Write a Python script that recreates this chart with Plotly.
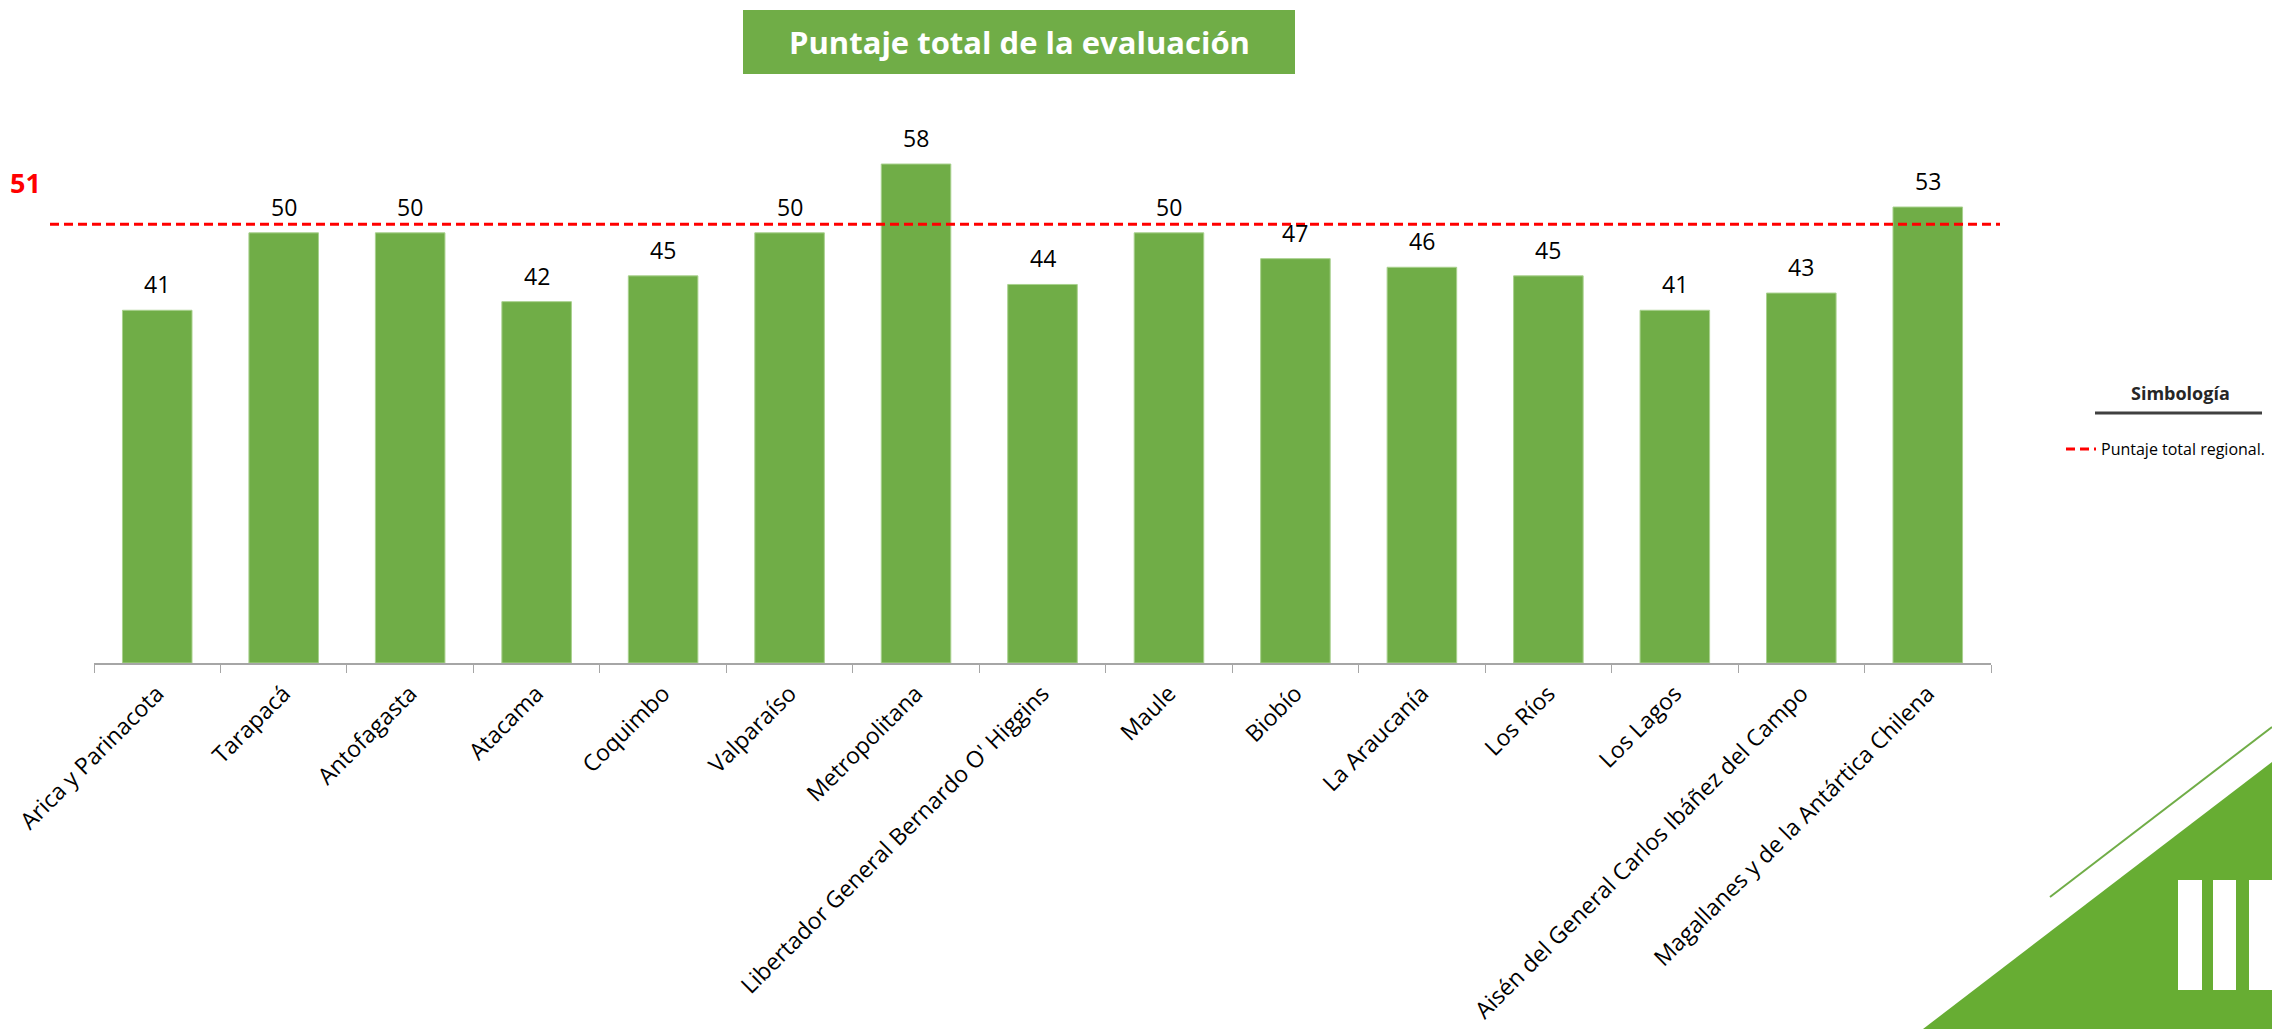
import plotly.graph_objects as go

# Datos
regiones = [
    "Arica y Parinacota",
    "Tarapacá",
    "Antofagasta",
    "Atacama",
    "Coquimbo",
    "Valparaíso",
    "Metropolitana",
    "Libertador General Bernardo O' Higgins",
    "Maule",
    "Biobío",
    "La Araucanía",
    "Los Ríos",
    "Los Lagos",
    "Aisén del General Carlos Ibáñez del Campo",
    "Magallanes y de la Antártica Chilena",
]
puntajes = [41, 50, 50, 42, 45, 50, 58, 44, 50, 47, 46, 45, 41, 43, 53]
puntaje_regional = 51

titulo = "Puntaje total de la evaluación"
leyenda_titulo = "Simbología"
leyenda_item = "Puntaje total regional."

# Geometria de la pagina (pixeles)
W, H = 2272, 1029
PL, PR, PT, PB = 94, 1991, 121, 663
FONT = "Open Sans"
VERDE = "#70AD47"


def px(x):
    return (x - PL) / (PR - PL)


def py(y):
    return (PB - y) / (PB - PT)


fig = go.Figure()

fig.add_trace(
    go.Bar(
        x=regiones,
        y=puntajes,
        marker=dict(color=VERDE, line=dict(color="#A9D18E", width=1)),
        showlegend=False,
        hoverinfo="x+y",
    )
)

# Etiquetas de valor sobre las barras
for reg, val in zip(regiones, puntajes):
    fig.add_annotation(
        x=reg, y=val, text=str(val), showarrow=False, yshift=26,
        font=dict(family=FONT, size=23, color="#000000"),
    )

# Linea del puntaje regional
fig.add_shape(
    type="line", xref="paper", yref="y",
    x0=px(50), x1=px(2000), y0=puntaje_regional, y1=puntaje_regional,
    line=dict(color="#FF0000", width=3, dash="9px,5px"),
    showlegend=True, name=leyenda_item, layer="above",
)
fig.add_annotation(
    xref="paper", yref="y", x=px(25), y=puntaje_regional, yshift=42,
    text=f"<b>{puntaje_regional}</b>", showarrow=False,
    xanchor="center", yanchor="middle",
    font=dict(family=FONT, size=27, color="#FF0000"),
)

# Titulo en caja verde
fig.add_shape(
    type="rect", xref="paper", yref="paper",
    x0=px(743), x1=px(1295), y0=py(74), y1=py(10),
    fillcolor=VERDE, line=dict(width=0), layer="below",
)
fig.add_annotation(
    xref="paper", yref="paper", x=px(1019), y=py(42),
    text=f"<b>{titulo}</b>", showarrow=False,
    xanchor="center", yanchor="middle",
    font=dict(family=FONT, size=31, color="white"),
)

# Leyenda: titulo y subrayado
fig.add_annotation(
    xref="paper", yref="paper", x=px(2180), y=py(393),
    text=f"<b>{leyenda_titulo}</b>", showarrow=False,
    xanchor="center", yanchor="middle",
    font=dict(family=FONT, size=18, color="#262626"),
)
fig.add_shape(
    type="line", xref="paper", yref="paper",
    x0=px(2095), x1=px(2262), y0=py(413), y1=py(413),
    line=dict(color="#404040", width=3),
)

# Decoracion esquina inferior derecha
tri = "M {} {} L {} {} L {} {} Z".format(
    px(1923), py(1029), px(2272), py(762), px(2272), py(1029)
)
fig.add_shape(type="path", xref="paper", yref="paper", path=tri,
              fillcolor="#67AD33", line=dict(width=0))
fig.add_shape(
    type="line", xref="paper", yref="paper",
    x0=px(2050), y0=py(897), x1=px(2272), y1=py(727),
    line=dict(color=VERDE, width=2),
)
for x0, x1 in [(2178, 2202), (2213, 2236), (2249, 2272)]:
    fig.add_shape(
        type="rect", xref="paper", yref="paper",
        x0=px(x0), x1=px(x1), y0=py(990), y1=py(880),
        fillcolor="white", line=dict(width=0),
    )

fig.update_layout(
    width=W,
    height=H,
    margin=dict(l=PL, r=W - PR, t=PT, b=H - PB, autoexpand=False),
    plot_bgcolor="white",
    paper_bgcolor="white",
    bargap=0.45,
    font=dict(family=FONT, color="#000000"),
    legend=dict(
        x=px(2061), y=py(449), xanchor="left", yanchor="middle",
        font=dict(family=FONT, size=16, color="#000000"),
        bgcolor="rgba(0,0,0,0)", itemwidth=30,
    ),
)
fig.update_xaxes(
    tickangle=-45,
    tickson="boundaries",
    ticks="outside",
    ticklen=8,
    tickcolor="#A6A6A6",
    showline=True,
    linecolor="#A6A6A6",
    linewidth=2,
    ticklabelstandoff=6,
    tickfont=dict(family=FONT, size=23, color="#000000"),
    showgrid=False,
)
fig.update_yaxes(
    range=[0, 63],
    visible=False,
    showgrid=False,
)

fig.write_html(
    "out.html",
    config={"displayModeBar": False},
    post_script="document.body.style.margin='0';document.body.style.overflow='hidden';",
)
